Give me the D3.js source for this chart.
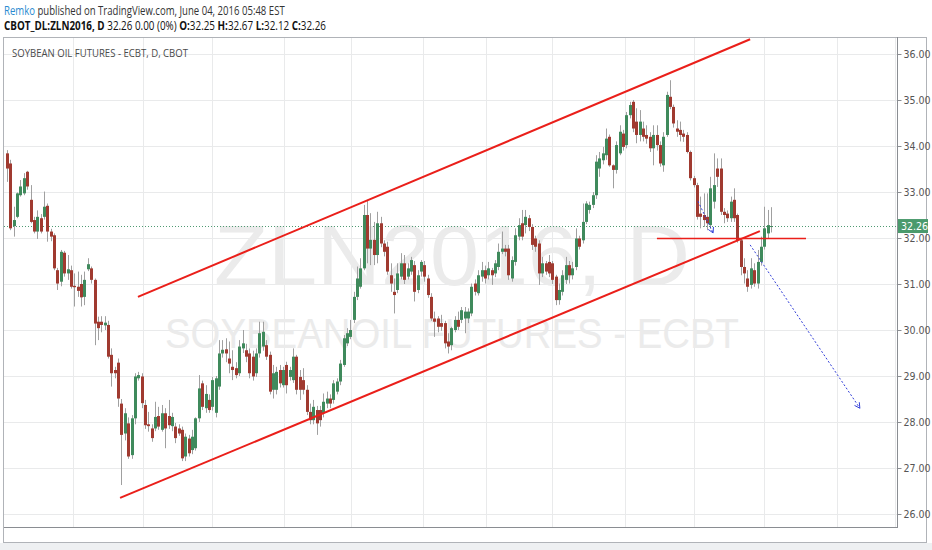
<!DOCTYPE html>
<html><head><meta charset="utf-8">
<script src="https://cdn.jsdelivr.net/npm/d3@7"></script>
<style>
html,body{margin:0;padding:0;background:#fff;}
svg{display:block;}
text{white-space:pre;}
</style></head>
<body>
<svg id="c" width="932" height="550"></svg>
<script>
// ---- DATA (daily candles, Jul 2015 - Jun 3 2016) ----
const opens=[33.84,33.62,32.26,32.46,32.93,32.97,33.44,32.83,32.39,32.14,32.43,32.46,32.70,32.14,32.06,31.30,31.05,31.68,31.23,31.30,30.96,30.94,31.00,30.72,31.32,31.34,31.09,30.18,30.18,30.10,30.11,29.46,29.13,29.29,28.40,27.75,27.97,27.28,28.08,28.95,28.99,28.37,27.95,27.86,27.86,28.13,27.83,28.19,28.13,27.91,27.90,27.86,27.83,27.25,27.64,27.39,27.43,28.08,28.84,28.30,28.48,28.33,28.20,28.77,29.49,29.58,29.38,29.20,29.17,29.06,29.60,29.56,29.49,29.42,29.06,29.49,29.64,29.67,29.46,28.70,28.70,29.13,28.80,29.24,28.98,28.91,29.42,28.98,28.91,28.70,28.22,28.04,28.26,28.26,28.19,28.40,28.51,28.48,28.66,28.88,29.24,29.71,29.85,30.22,30.72,30.94,31.34,32.50,31.77,31.96,31.63,32.32,31.88,31.81,31.19,30.83,30.87,31.16,31.45,31.16,31.27,31.41,30.87,31.27,31.41,31.12,30.72,30.25,30.25,30.15,30.15,29.75,29.67,30.00,30.22,30.22,30.25,30.25,30.36,31.01,30.80,31.16,31.30,31.19,31.30,31.23,31.37,31.70,31.77,31.77,31.12,31.48,32.03,32.32,32.28,32.43,32.24,31.99,31.88,31.23,31.45,31.48,31.45,31.16,30.65,30.83,31.09,31.41,31.19,31.37,31.99,31.95,32.35,32.61,32.72,32.93,33.51,33.69,33.80,34.20,33.58,33.48,33.84,34.27,34.02,34.67,34.96,34.53,34.24,34.38,34.24,34.20,33.95,34.24,34.02,33.58,34.24,35.07,34.85,34.38,34.35,34.27,34.24,33.87,33.30,33.15,32.53,32.50,32.46,32.28,32.79,33.51,33.51,32.57,32.53,32.43,32.83,32.50,31.95,31.37,31.12,30.98,31.30,31.01,31.48,31.81,32.10,32.25];
const highs=[33.91,33.70,32.68,32.99,33.26,33.41,33.46,33.15,32.46,32.60,32.52,33.01,32.75,32.20,32.10,31.35,31.74,31.72,31.63,31.40,31.23,31.27,31.20,31.27,31.56,31.38,31.12,30.29,30.30,30.30,30.20,29.60,29.20,29.38,28.50,28.30,28.10,28.15,29.06,29.09,29.06,28.48,28.22,27.95,28.44,28.33,28.37,28.30,28.48,28.20,27.98,27.95,27.90,27.75,27.72,27.83,28.10,29.02,28.90,28.80,28.60,28.98,29.00,29.78,29.78,29.82,29.75,29.56,29.30,29.78,30.00,29.70,29.60,29.55,29.60,30.18,30.18,29.78,29.53,29.24,29.20,29.24,29.20,29.31,29.20,29.60,29.46,29.13,29.17,28.80,28.40,28.48,28.35,28.35,28.62,28.66,28.60,28.91,28.95,29.35,29.89,30.04,30.22,30.83,31.38,31.56,32.72,32.83,32.54,32.35,32.57,32.46,31.95,31.92,31.45,31.12,31.45,31.67,31.63,31.45,31.59,31.50,31.30,31.52,31.50,31.20,30.80,30.40,30.30,30.33,30.20,29.93,30.07,30.30,30.40,30.50,30.50,30.47,31.01,31.10,31.30,31.48,31.40,31.48,31.35,31.52,31.88,32.14,31.85,31.85,31.60,32.21,32.43,32.61,32.61,32.50,32.30,32.05,31.95,31.59,31.50,31.63,31.50,31.20,31.01,31.30,31.59,31.50,31.48,32.21,32.05,32.75,32.80,32.79,33.00,33.80,33.87,33.98,34.38,34.25,33.60,34.10,34.45,34.35,34.74,34.96,35.00,34.82,34.78,34.53,34.45,34.30,34.45,34.45,34.10,34.30,35.18,35.43,34.90,34.56,34.53,34.35,34.30,33.90,33.35,33.20,32.90,32.97,32.97,33.33,33.84,33.73,33.73,32.65,32.60,32.90,33.08,32.53,32.00,31.56,31.30,31.56,31.45,31.74,32.03,32.68,32.61,32.67];
const lows=[33.22,32.17,32.03,32.43,32.90,32.93,33.05,32.32,32.10,31.98,32.10,32.40,31.92,31.93,31.30,30.87,30.95,31.16,31.09,30.90,30.51,30.72,30.51,30.54,31.28,31.01,29.67,29.78,29.95,30.00,29.38,28.77,28.95,28.33,26.63,27.60,27.20,27.20,27.95,28.90,28.30,27.85,27.79,27.57,27.80,27.83,27.79,27.43,27.85,27.80,27.54,27.70,27.15,27.15,27.25,27.30,27.38,28.00,28.26,28.20,28.20,28.25,28.10,28.70,29.40,29.30,29.06,28.91,28.95,29.00,29.50,29.30,28.95,28.90,28.98,29.40,29.55,29.35,28.60,28.51,28.60,28.75,28.75,28.62,28.90,28.85,28.60,28.48,28.60,28.15,27.95,27.95,27.72,27.90,28.10,28.30,28.30,28.40,28.60,28.80,29.20,29.65,29.80,30.15,30.65,30.90,31.30,31.45,31.41,31.41,31.45,31.80,31.60,31.20,30.83,30.36,30.80,31.10,31.00,31.10,31.20,30.62,30.80,31.16,31.05,30.70,30.20,29.85,29.95,29.98,29.60,29.49,29.56,29.95,30.00,30.15,29.93,30.15,30.30,30.75,30.75,31.05,31.01,31.10,30.98,31.15,31.30,31.65,31.60,31.09,31.05,31.40,31.95,31.95,32.10,32.15,31.74,31.70,30.98,31.15,31.20,31.15,31.00,30.54,30.55,30.75,31.00,31.01,31.10,31.30,31.75,31.88,32.30,32.53,32.65,32.85,33.33,33.60,33.70,33.55,33.08,33.40,33.80,33.90,33.95,34.60,34.30,34.06,34.10,34.10,34.05,33.87,33.58,33.90,33.55,33.44,34.20,34.80,34.40,34.20,34.10,34.09,33.84,33.25,33.10,32.40,32.21,32.24,32.17,32.20,32.64,33.11,32.50,32.32,32.35,32.35,32.35,31.90,31.19,31.01,30.83,30.90,30.94,30.90,31.40,31.75,32.00,32.12];
const closes=[33.51,32.21,32.39,32.97,33.12,33.30,33.12,32.35,32.14,32.46,32.14,32.68,32.14,32.03,31.34,31.01,31.70,31.23,31.32,30.94,30.93,30.85,30.71,31.09,31.43,31.09,30.14,30.04,30.11,30.16,29.42,29.06,29.06,28.51,27.72,28.19,27.25,28.08,28.99,29.02,28.41,27.93,27.91,27.65,28.11,27.90,28.19,27.86,27.93,28.11,27.65,27.75,27.21,27.68,27.32,27.68,28.08,28.73,28.33,28.61,28.26,28.91,28.95,29.49,29.57,29.49,29.27,29.13,29.02,29.64,29.71,29.42,29.06,28.99,29.49,29.93,29.96,29.42,28.66,29.06,29.09,28.84,29.13,28.80,29.13,29.42,28.70,28.70,28.70,28.22,28.04,28.33,27.97,28.04,28.44,28.51,28.40,28.84,28.88,29.27,29.82,29.93,30.00,30.72,31.12,31.34,32.50,31.77,31.96,31.63,32.32,31.88,31.70,31.27,31.01,30.76,31.23,31.45,31.09,31.34,31.52,30.83,31.19,31.48,31.16,30.76,30.25,30.18,30.07,30.07,29.71,29.64,30.04,30.22,30.07,30.43,30.40,30.40,30.94,30.83,31.19,31.30,31.12,31.34,31.19,31.45,31.70,31.77,31.70,31.19,31.52,32.06,32.28,32.03,32.46,32.24,31.85,31.81,31.23,31.45,31.27,31.23,31.09,30.65,30.87,31.19,31.41,31.19,31.34,31.99,31.81,32.35,32.75,32.72,32.93,33.66,33.73,33.84,34.16,33.58,33.48,34.02,34.31,33.98,34.67,34.89,34.38,34.24,34.53,34.20,34.16,33.95,34.24,34.02,33.62,34.20,35.11,34.85,34.49,34.31,34.24,34.20,33.87,33.30,33.15,32.46,32.46,32.39,32.32,33.08,33.15,33.33,32.57,32.50,32.43,32.79,32.43,31.95,31.37,31.23,30.94,31.34,31.01,31.48,31.81,32.21,32.28,32.26];

const monthTickIndex=[19.6,40.4,60.9,82.3,102.2,123.6,142.3,161.9,183.6,204.1,224.9,246.6,263.9];
const monthTickLabels=["Aug","Sep","Oct","Nov","Dec","2016","Feb","Mar","Apr","May","Jun","Jul","2"];
const priceTicks=[26,27,28,29,30,31,32,33,34,35,36];
const lastPrice=32.26;
// drawings: [barIndex, price]
const upperChannel=[[38.9,30.72],[220.8,36.32]];
const lowerChannel=[[33.6,26.35],[223.7,32.15]];
const supportLine=[[193.1,31.99],[237.4,31.99]];
const arrowSmall=[[205.3,32.80],[209.8,32.11]];
const arrowBig=[[220.8,31.85],[253.4,28.30]];

const headerLine1=[["Remko","#2a8ad0",false],[" published on TradingView.com, June 04, 2016 05:48 EST","#333",false]];
const headerLine2=[["CBOT_DL:ZLN2016, D","#111",true],[" 32.26 0.00 (0%) ","#111",false],["O:","#111",true],["32.25 ","#111",false],["H:","#111",true],["32.67 ","#111",false],["L:","#111",true],["32.12 ","#111",false],["C:","#111",true],["32.26","#111",false]];
const chartTitle="SOYBEAN OIL FUTURES - ECBT, D, CBOT";
const watermark1="ZLN2016, D";
const watermark2="SOYBEANOIL FUTURES - ECBT";

// ---- LAYOUT ----
const svg=d3.select("#c");
const plot={left:4,right:897,top:37,bottom:527};
const x=d3.scaleLinear().domain([0,227]).range([7,771]);
const y=d3.scaleLinear().domain([26,36]).range([514,54]);
const axisFont="'Liberation Sans Narrow','DejaVu Sans Condensed','Liberation Sans',sans-serif";

svg.append("rect").attr("x",0).attr("y",0).attr("width",932).attr("height",550).attr("fill","#fff");
svg.append("rect").attr("x",0).attr("y",543).attr("width",932).attr("height",7).attr("fill","#eef0f2");

// header rows: pieces laid out in sequence, then squeezed to the reference width
function headerRow(yPos,pieces,targetW){
  const g=svg.append("g");
  let cx=0;
  pieces.forEach(([t,col,b])=>{
    const el=g.append("text").attr("x",cx).attr("y",yPos).attr("font-family","'Open Sans',sans-serif").attr("font-size",12)
      .attr("font-weight",b?"bold":"normal").attr("fill",col).text(t);
    cx+=el.node().getComputedTextLength();
  });
  g.attr("transform",`translate(4,0) scale(${targetW/cx},1)`);
}
headerRow(15,headerLine1,281);
headerRow(30,headerLine2,322);

// chart frame
svg.append("rect").attr("x",3.5).attr("y",37.5).attr("width",923).attr("height",505).attr("fill","#fff").attr("stroke","#b0b3b8");

const defs=svg.append("defs");
defs.append("clipPath").attr("id","pc").append("rect").attr("x",plot.left).attr("y",plot.top+1).attr("width",plot.right-plot.left).attr("height",plot.bottom-plot.top-1);
defs.append("clipPath").attr("id","xc").append("rect").attr("x",plot.left).attr("y",plot.bottom).attr("width",plot.right-plot.left+2).attr("height",16);

// grid
const grid=svg.append("g");
grid.selectAll("line.v").data(monthTickIndex).join("line").attr("class","v")
  .attr("x1",d=>Math.round(x(d))+0.5).attr("x2",d=>Math.round(x(d))+0.5).attr("y1",plot.top+1).attr("y2",plot.bottom).attr("stroke","#e9eaeb");
grid.selectAll("line.h").data(priceTicks).join("line").attr("class","h")
  .attr("x1",plot.left).attr("x2",plot.right).attr("y1",d=>Math.round(y(d))+0.5).attr("y2",d=>Math.round(y(d))+0.5).attr("stroke","#e9eaeb");

// watermarks
svg.append("text").attr("x",452).attr("y",285).attr("text-anchor","middle").attr("font-family","'Liberation Sans',Arial,sans-serif")
  .attr("font-size",86).attr("fill","#ebebeb").attr("textLength",476).attr("lengthAdjust","spacingAndGlyphs").text(watermark1);
svg.append("text").attr("x",452).attr("y",348).attr("text-anchor","middle").attr("font-family","'Liberation Sans',Arial,sans-serif")
  .attr("font-size",43).attr("fill","#ebebeb").attr("textLength",574).attr("lengthAdjust","spacingAndGlyphs").text(watermark2);

// title inside chart
svg.append("text").attr("x",12).attr("y",57).attr("font-family","'Open Sans',sans-serif").attr("font-size",11.5)
  .attr("fill","#4a4a4a").attr("textLength",176).attr("lengthAdjust","spacingAndGlyphs").text(chartTitle);

// last price dotted line
svg.append("line").attr("x1",plot.left).attr("x2",plot.right).attr("y1",Math.round(y(lastPrice))+0.5).attr("y2",Math.round(y(lastPrice))+0.5)
  .attr("stroke","#4f9a72").attr("stroke-dasharray","1,2");

// candles
const bars=d3.range(closes.length).map(i=>({i,o:opens[i],h:highs[i],l:lows[i],c:closes[i]}));
const cg=svg.append("g").attr("clip-path","url(#pc)");
cg.selectAll("line.w").data(bars).join("line").attr("class","w")
  .attr("x1",d=>Math.round(x(d.i))+0.5).attr("x2",d=>Math.round(x(d.i))+0.5)
  .attr("y1",d=>y(d.h)).attr("y2",d=>y(d.l)).attr("stroke","#a0a0a0").attr("stroke-width",1);
cg.selectAll("rect.b").data(bars).join("rect").attr("class","b")
  .attr("x",d=>Math.round(x(d.i))-1).attr("width",3)
  .attr("y",d=>y(Math.max(d.o,d.c))).attr("height",d=>Math.max(1,Math.abs(y(d.o)-y(d.c))))
  .attr("fill",d=>d.c>=d.o?"#3f8a5c":"#a03a30");

// drawings
const lg=svg.append("g").attr("clip-path","url(#pc)");
const line=d3.line().x(d=>x(d[0])).y(d=>y(d[1]));
[upperChannel,lowerChannel].forEach(p=>lg.append("path").attr("d",line(p)).attr("stroke","#ea1f1a").attr("stroke-width",2).attr("fill","none"));
lg.append("path").attr("d",line(supportLine)).attr("stroke","#ea1f1a").attr("stroke-width",1.5).attr("fill","none");
function arrow(p){
  lg.append("path").attr("d",line(p)).attr("stroke","#3340d8").attr("stroke-width",1).attr("stroke-dasharray","2,2").attr("fill","none");
  const x1=x(p[0][0]),y1=y(p[0][1]),x2=x(p[1][0]),y2=y(p[1][1]);
  const a=Math.atan2(y2-y1,x2-x1),L=6,s=0.5;
  lg.append("path").attr("d",`M${x2-L*Math.cos(a-s)},${y2-L*Math.sin(a-s)}L${x2},${y2}L${x2-L*Math.cos(a+s)},${y2-L*Math.sin(a+s)}`)
    .attr("stroke","#3340d8").attr("stroke-width",1).attr("fill","none");
}
arrow(arrowSmall); arrow(arrowBig);

// axis lines
svg.append("line").attr("x1",plot.right+0.5).attr("x2",plot.right+0.5).attr("y1",plot.top).attr("y2",plot.bottom).attr("stroke","#8a8d92");
svg.append("line").attr("x1",plot.left).attr("x2",plot.right+1).attr("y1",plot.bottom+0.5).attr("y2",plot.bottom+0.5).attr("stroke","#8a8d92");

// y axis
const yAxis=d3.axisRight(y).tickValues(priceTicks).tickFormat(d3.format(".2f")).tickSize(4).tickPadding(2);
const yg=svg.append("g").attr("transform",`translate(${plot.right+0.5},0)`).call(yAxis);
yg.select(".domain").remove();
yg.selectAll("line").attr("stroke","#8a8d92");
yg.selectAll("text").attr("font-family",axisFont).attr("font-size",10.5).attr("fill","#555");

// x axis
const xAxis=d3.axisBottom(x).tickValues(monthTickIndex).tickFormat((d,i)=>monthTickLabels[i]).tickSize(4).tickPadding(3);
const xg=svg.append("g").attr("transform",`translate(0,${plot.bottom+0.5})`).attr("clip-path","url(#xc)").call(xAxis);
xg.select(".domain").remove();
xg.selectAll("line").attr("stroke","#8a8d92");
xg.selectAll("text").attr("font-family",axisFont).attr("font-size",10.5).attr("fill","#555")
  .attr("font-weight",(d,i)=>monthTickLabels[i]==="2016"?"bold":"normal");

// last price label
const ly=y(lastPrice);
svg.append("rect").attr("x",plot.right+1).attr("y",ly-7).attr("width",30).attr("height",14).attr("fill","#4a9a6c");
svg.append("text").attr("x",plot.right+4).attr("y",ly+4).attr("font-family",axisFont)
  .attr("font-size",10.5).attr("fill","#fff").text(d3.format(".2f")(lastPrice));
</script>
</body></html>
